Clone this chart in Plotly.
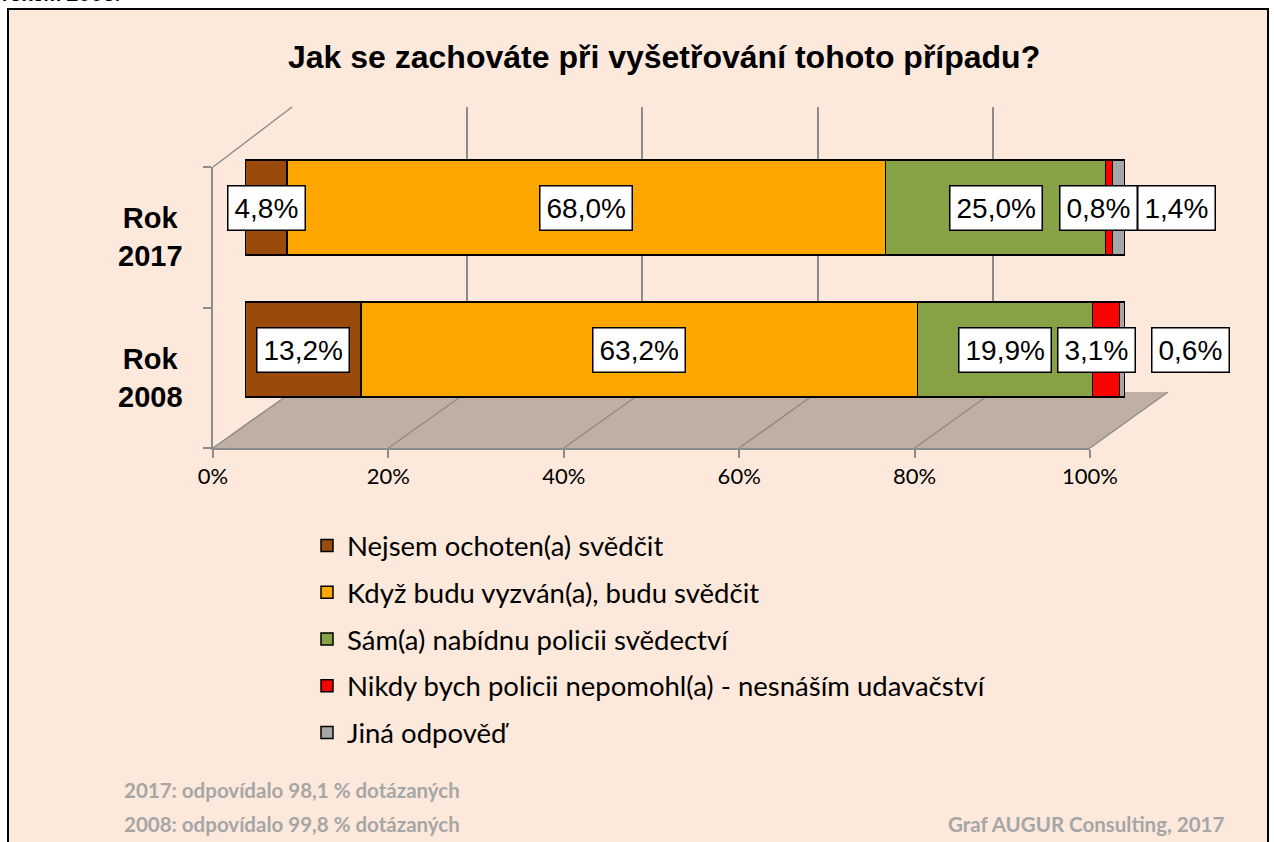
import plotly.graph_objects as go

# ---------------- data ----------------
years = ["Rok 2008", "Rok 2017"]
year_labels = ["Rok<br>2008", "Rok<br>2017"]
series_names = [
    "Nejsem ochoten(a) svědčit",
    "Když budu vyzván(a), budu svědčit",
    "Sám(a) nabídnu policii svědectví",
    "Nikdy bych policii nepomohl(a) - nesnáším udavačství",
    "Jiná odpověď",
]
# values per series: [2008, 2017]
v_nejsem = [13.2, 4.8]
v_kdyz = [63.2, 68.0]
v_sam = [19.9, 25.0]
v_nikdy = [3.1, 0.8]
v_jina = [0.6, 1.4]
series_values = [v_nejsem, v_kdyz, v_sam, v_nikdy, v_jina]
tick_values = [0, 20, 40, 60, 80, 100]
tick_text = ["0%", "20%", "40%", "60%", "80%", "100%"]

title_text = "Jak se zachováte při vyšetřování tohoto případu?"
note_2017 = "2017: odpovídalo 98,1 % dotázaných"
note_2008 = "2008: odpovídalo 99,8 % dotázaných"
credit = "Graf AUGUR Consulting, 2017"
top_cut_text = "rokem 2008."

# ---------------- style ----------------
colors = ["#9A4B0C", "#FFA600", "#86A244", "#FF0000", "#A6A6A6"]
GRID = "#8C8C8C"
W, H = 1274, 842


def px(x):
    return x / W


def py(y):
    return 1 - y / H


# label offsets (px) for thin segments, keyed by (series index, year index)
label_xshift = {(3, 1): -11, (4, 1): 58, (3, 0): -10, (4, 0): 68}

# geometry (pixels)
FRONT_L, FRONT_R, FRONT_Y = 213, 1090, 448
BACK_L, BACK_R, BACK_Y = 292, 1168, 392
WALL_TOP = 107
SIDE_TOP = 167

fig = go.Figure()

# dummy traces so that the wall and front subplots exist
fig.add_trace(go.Scatter(x=[], y=[], xaxis="x", yaxis="y", showlegend=False, hoverinfo="skip"))
fig.add_trace(go.Scatter(x=[], y=[], xaxis="x2", yaxis="y2", showlegend=False, hoverinfo="skip"))

for i, (name, vals) in enumerate(zip(series_names, series_values)):
    fig.add_trace(go.Bar(
        x=vals, y=years, orientation="h", name=name,
        xaxis="x3", yaxis="y3",
        marker=dict(color=colors[i], line=dict(color="#000000", width=1.5)),
        legendgroup=f"g{i}",
        hoverinfo="skip",
    ))

# data labels
annotations = []
for j, yr in enumerate(years):
    cum = 0.0
    for i, vals in enumerate(series_values):
        v = vals[j]
        mid = cum + v / 2
        cum += v
        annotations.append(dict(
            x=mid, y=yr, xref="x3", yref="y3",
            text=f"{v:.1f}%".replace(".", ","),
            showarrow=False, xshift=label_xshift.get((i, j), 0),
            font=dict(family="Arial, Liberation Sans", size=28, color="#000000"),
            bgcolor="#FFFFFF", bordercolor="#000000", borderwidth=1.5, borderpad=6,
        ))

# category labels (front face)
for k, lab in enumerate(year_labels):
    annotations.append(dict(
        x=px(150), y=k + 0.5, xref="paper", yref="y2",
        text=f"<b>{lab}</b>", showarrow=False, align="center",
        xanchor="center", yanchor="middle",
        font=dict(family="Arial, Liberation Sans", size=29, color="#000000"),
    ))

# title & notes
annotations += [
    dict(x=px(664), y=py(57), xref="paper", yref="paper", text=f"<b>{title_text}</b>",
         showarrow=False, xanchor="center", yanchor="middle",
         font=dict(family="Arial, Liberation Sans", size=32, color="#000000")),
    dict(x=px(122), y=py(790), xref="paper", yref="paper", text=f"<b>{note_2017}</b>",
         showarrow=False, xanchor="left", yanchor="middle",
         font=dict(family="Lato", size=20.5, color="#A6A6A6")),
    dict(x=px(122), y=py(824), xref="paper", yref="paper", text=f"<b>{note_2008}</b>",
         showarrow=False, xanchor="left", yanchor="middle",
         font=dict(family="Lato", size=20.5, color="#A6A6A6")),
    dict(x=px(1226), y=py(824), xref="paper", yref="paper", text=f"<b>{credit}</b>",
         showarrow=False, xanchor="right", yanchor="middle",
         font=dict(family="Lato", size=20.5, color="#A6A6A6")),
    dict(x=0, y=py(7), xref="paper", yref="paper", text=f"<b>{top_cut_text}</b>",
         showarrow=False, xanchor="left", yanchor="bottom",
         font=dict(family="Lato", size=21, color="#000000")),
]

# shapes: chart area, floor, 3D edges
shapes = [
    dict(type="rect", xref="paper", yref="paper", x0=px(8), x1=px(1268), y0=-0.05, y1=py(9),
         fillcolor="#FDE9DB", line=dict(color="#000000", width=2), layer="below"),
    dict(type="path", xref="paper", yref="paper", layer="below",
         path=(f"M{px(FRONT_L)},{py(FRONT_Y)} L{px(FRONT_R)},{py(FRONT_Y)} "
               f"L{px(BACK_R)},{py(BACK_Y)} L{px(BACK_L)},{py(BACK_Y)} Z"),
         fillcolor="#C0B0A3", line=dict(width=0)),
    dict(type="line", xref="paper", yref="paper", layer="below",
         x0=px(FRONT_L), y0=py(SIDE_TOP), x1=px(BACK_L), y1=py(WALL_TOP),
         line=dict(color=GRID, width=1.5)),
]
for t in tick_values:
    fx = FRONT_L + t / 100 * (FRONT_R - FRONT_L)
    bx = BACK_L + t / 100 * (BACK_R - BACK_L)
    shapes.append(dict(type="line", xref="paper", yref="paper", layer="below",
                       x0=px(fx), y0=py(FRONT_Y), x1=px(bx), y1=py(BACK_Y),
                       line=dict(color=GRID, width=1.5)))

fig.update_layout(
    width=W, height=H,
    margin=dict(l=0, r=0, t=0, b=0, autoexpand=False),
    paper_bgcolor="#FFFFFF", plot_bgcolor="rgba(0,0,0,0)",
    barmode="stack", bargap=0.33,
    showlegend=True,
    legend=dict(
        x=px(307), y=py(521), xanchor="left", yanchor="top",
        bgcolor="rgba(0,0,0,0)", tracegroupgap=8,
        font=dict(family="Lato", size=27.5, color="#000000"),
        traceorder="grouped",
    ),
    # back wall gridlines
    xaxis=dict(domain=[px(BACK_L), px(BACK_R)], range=[0, 100], anchor="y",
               tickvals=tick_values, showgrid=True, gridcolor=GRID, gridwidth=1.5,
               showticklabels=False, ticks="", zeroline=False, showline=False,
               fixedrange=True, automargin=False),
    yaxis=dict(domain=[py(BACK_Y), py(WALL_TOP)], range=[0, 1], anchor="x",
               showgrid=False, showticklabels=False, ticks="", zeroline=False,
               showline=False, fixedrange=True, automargin=False),
    # front axis
    xaxis2=dict(domain=[px(FRONT_L), px(FRONT_R)], range=[0, 100], anchor="y2",
                tickvals=tick_values, ticktext=tick_text, ticks="outside", ticklen=8,
                tickcolor=GRID, tickwidth=1.5, showline=True, linecolor=GRID, linewidth=1.5,
                showgrid=False, zeroline=False, fixedrange=True, automargin=False,
                tickfont=dict(family="Lato", size=22, color="#000000")),
    yaxis2=dict(domain=[py(FRONT_Y), py(SIDE_TOP)], range=[0, 2], anchor="x2",
                showline=True, linecolor=GRID, linewidth=1.5, showgrid=False,
                zeroline=False, showticklabels=False, automargin=False,
                tickvals=[0, 1, 2], ticks="outside", ticklen=8, tickcolor=GRID, tickwidth=1.5,
                fixedrange=True),
    # bars
    xaxis3=dict(domain=[px(245), px(1125)], range=[0, 100], anchor="y3",
                visible=False, fixedrange=True, automargin=False),
    yaxis3=dict(domain=[py(420.5), py(136.5)], type="category",
                categoryorder="array", categoryarray=years, range=[-0.5, 1.5],
                anchor="x3", visible=False, fixedrange=True, automargin=False),
    annotations=annotations,
    shapes=shapes,
)

fig.write_html("out.html", config={"displayModeBar": False},
               post_script="document.body.style.margin='0px';")
